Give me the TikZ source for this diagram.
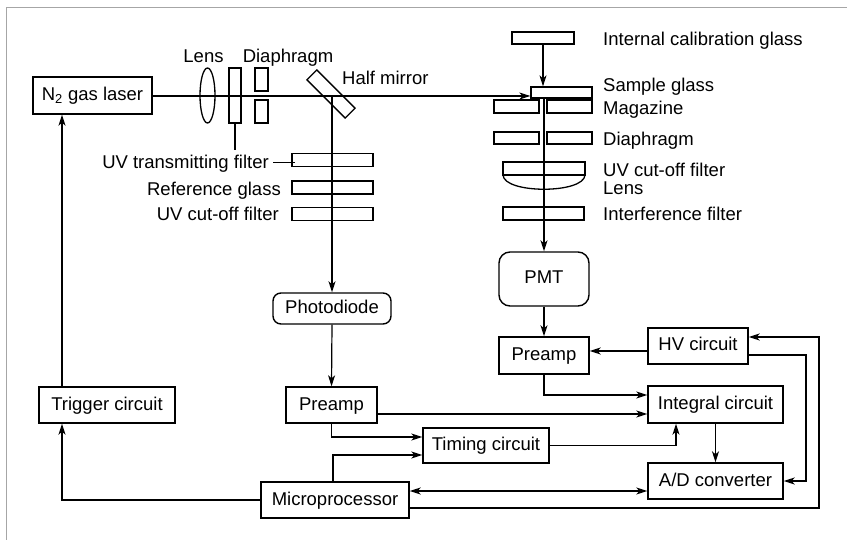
\documentclass[tikz,border=0pt]{standalone}
\usepackage{fontspec}
\setmainfont{Liberation Sans}
\usetikzlibrary{arrows.meta, shapes.geometric}

\begin{document}
\begin{tikzpicture}[
  x=1pt, y=-1pt,
  font=\fontsize{18.5}{20}\selectfont,
  box/.style={draw, line width=1.4pt, inner sep=0pt, text height=13pt, text depth=3pt},
  rbox/.style={box, rounded corners=8pt},
  optic/.style={draw, line width=1.3pt, inner sep=0pt},
  lbl/.style={inner sep=0pt, text height=13pt, text depth=0pt},
  arr/.style={-{Stealth[length=11pt, width=7pt, inset=3pt]}, line width=1.2pt},
  dblarr/.style={{Stealth[length=11pt, width=7pt, inset=3pt]}-{Stealth[length=11pt, width=7pt, inset=3pt]}, line width=1.2pt},
  ln/.style={line width=1.2pt}
]
  \useasboundingbox (0,0) rectangle (847,540);
  % scan border
  \draw[gray!70, line width=0.8pt] (6,540) -- (6,7) -- (847,7);

  % blocks
  \node[box, minimum width=119pt, minimum height=37pt] (laser) at (92.5,95.5) {N\textsubscript{2} gas laser};
  \node[box, minimum width=136pt, minimum height=36pt] (trig) at (107,405) {Trigger circuit};
  \node[rbox, minimum width=118pt, minimum height=31pt] (pd) at (332,308.5) {Photodiode};
  \node[box, minimum width=91pt, minimum height=36pt] (preampL) at (331.5,405) {Preamp};
  \node[box, minimum width=148pt, minimum height=36pt] (micro) at (335,500) {Microprocessor};
  \node[box, minimum width=126pt, minimum height=35pt] (timing) at (486,445.5) {Timing circuit};
  \node[rbox, rounded corners=11pt, minimum width=90pt, minimum height=54pt] (pmt) at (544,279) {PMT};
  \node[box, minimum width=90pt, minimum height=37pt] (preampR) at (544,355.5) {Preamp};
  \node[box, minimum width=100pt, minimum height=36pt] (hv) at (698,346) {HV circuit};
  \node[box, minimum width=135pt, minimum height=37pt] (integ) at (715.5,404.5) {Integral circuit};
  \node[box, minimum width=135pt, minimum height=36pt] (adc) at (715.5,481) {A/D converter};

  % optics, laser side
  \node[optic, ellipse, minimum width=15pt, minimum height=55pt] (lens) at (207.5,95.5) {};
  \node[optic, minimum width=12pt, minimum height=55pt] (uvt) at (235,95.5) {};
  \node[optic, minimum width=13pt, minimum height=23pt] (diaU) at (261.5,79.5) {};
  \node[optic, minimum width=13pt, minimum height=23pt] (diaL) at (261.5,111.5) {};
  \node[optic, minimum width=54pt, minimum height=14pt, rotate=-45] (mirror) at (331,94) {};
  \node[optic, minimum width=81pt, minimum height=13pt] (fUV) at (332.5,160) {};
  \node[optic, minimum width=81pt, minimum height=13pt] (fRef) at (332.5,187.5) {};
  \node[optic, minimum width=81pt, minimum height=13pt] (fCut) at (332.5,214) {};

  % optics, sample side
  \node[optic, minimum width=62pt, minimum height=12pt] (cal) at (543,38) {};
  \node[optic, minimum width=61pt, minimum height=11pt] (sample) at (561.5,92.5) {};
  \node[optic, minimum width=45pt, minimum height=13pt] (magL) at (516.5,106.5) {};
  \node[optic, minimum width=45pt, minimum height=13pt] (magR) at (569.5,106.5) {};
  \node[optic, minimum width=45pt, minimum height=12pt] (diaRL) at (516.5,138) {};
  \node[optic, minimum width=45pt, minimum height=12pt] (diaRR) at (569.5,138) {};
  \draw[line width=1.3pt] (503,175) -- (503,162) -- (585,162) -- (585,175) -- cycle;
  \draw[line width=1.3pt] (503,175) .. controls (504,194) and (584,194) .. (585,175);
  \node[optic, minimum width=81pt, minimum height=13pt] (intf) at (543.5,213.5) {};

  % labels
  \node[lbl] (lensLbl) at (203.5,56) {Lens};
  \node[lbl] (diaLbl) at (288,56) {Diaphragm};
  \node[lbl, anchor=west] (mirLbl) at (342,78) {Half mirror};
  \node[lbl, anchor=east] (uvtLbl) at (269,162.5) {UV transmitting filter};
  \node[lbl, anchor=east] (refLbl) at (281,189) {Reference glass};
  \node[lbl, anchor=east] (cutLbl) at (279,214.5) {UV cut-off filter};
  \node[lbl, anchor=west] (calLbl) at (603,39.5) {Internal calibration glass};
  \node[lbl, anchor=west] (sampLbl) at (603,85.5) {Sample glass};
  \node[lbl, anchor=west] (magLbl) at (603,108) {Magazine};
  \node[lbl, anchor=west] (diaRLbl) at (603,139) {Diaphragm};
  \node[lbl, anchor=west] (cutRLbl) at (603,170.5) {UV cut-off filter};
  \node[lbl, anchor=west] (lensRLbl) at (603,188) {Lens};
  \node[lbl, anchor=west] (intfLbl) at (603,214.5) {Interference filter};

  % light paths
  \draw[arr] ([yshift=-0.5pt]laser.east) -- ([yshift=-0.5pt]laser.east -| sample.west);
  \draw[arr] (pd.north |- laser.east) -- (pd.north);
  \draw[arr] (cal.south) -- (cal.south |- sample.north);
  \draw[arr] (pmt.north |- sample.south) -- (pmt.north);
  \draw[ln] (uvt.south) -- ++(0,26);
  \draw[ln] ([xshift=4pt]uvtLbl.east) -- ([xshift=4pt]uvtLbl.east -| fUV.west);

  % signals
  \draw[arr] (pmt.south) -- (preampR.north);
  \draw[arr] (pd.south) -- (preampL.north);
  \draw[arr] (preampL.south) |- ([yshift=8.5pt]timing.west);
  \draw[arr] ([xshift=-2pt]micro.north) |- ([yshift=-9.5pt]timing.west);
  \draw[arr] ([yshift=-9pt]preampL.east) -- ([yshift=-9pt]preampL.east -| integ.west);
  \draw[arr] (preampR.south) |- ([yshift=9.5pt]integ.west);
  \draw[arr] ([yshift=-5pt]hv.west) -- ([yshift=-5pt]hv.west -| preampR.east);
  \draw[arr] (integ.south) -- (adc.north);
  \draw[arr] (timing.east) -| ([xshift=-39.5pt]integ.south);
  \draw[dblarr] ([yshift=9pt]micro.east) -- ([yshift=9pt]micro.east -| adc.west);
  \coordinate (busR) at (819,508);
  \coordinate (busA) at (806,355);
  \draw[arr] ([yshift=-8pt]micro.east) -- (busR) |- ([yshift=9pt]hv.east);
  \draw[arr] ([yshift=-9pt]hv.east) -- (busA) |- (adc.east);
  \draw[arr] ([xshift=-45pt]trig.north) -- ([xshift=-45pt]trig.north |- laser.south);
  \draw[arr] (micro.west) -| ([xshift=-45pt]trig.south);
\end{tikzpicture}
\end{document}
